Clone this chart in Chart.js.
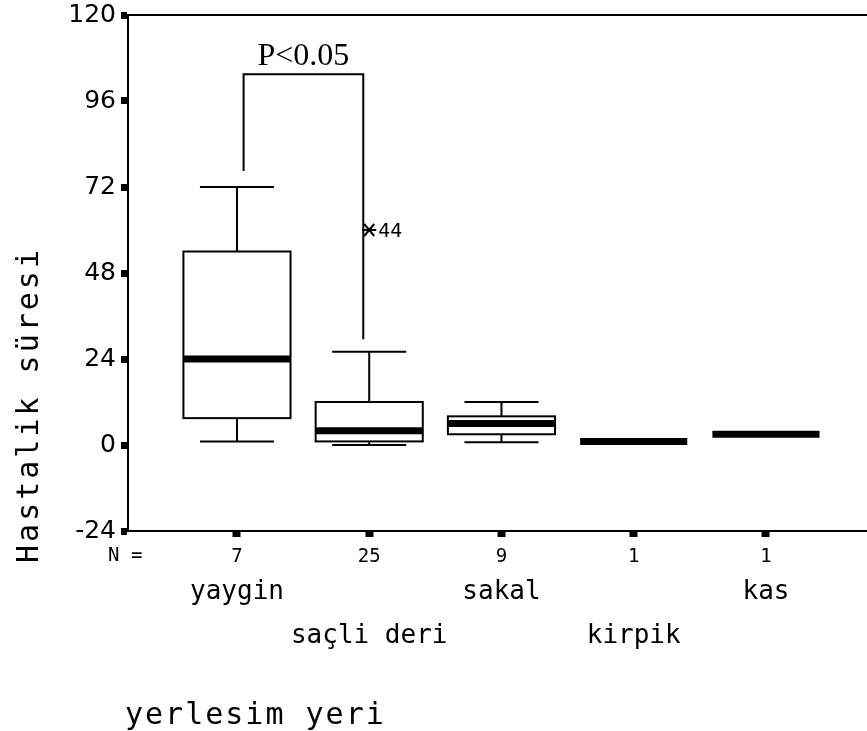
<!DOCTYPE html>
<html>
<head>
<meta charset="utf-8">
<script src="https://cdn.jsdelivr.net/npm/chart.js@4/dist/chart.umd.min.js"></script>
<style>
  html, body { margin: 0; padding: 0; background: #fff; }
  canvas { display: block; }
</style>
</head>
<body>
<canvas id="boxChart" width="867" height="731"></canvas>
<script>
// kategoriler i vrijednosti box plota (procijenjeno sa slike)
const categories = ["yaygin", "saçli deri", "sakal", "kirpik", "kas"];
const nValues = [7, 25, 9, 1, 1];
const whiskerLow = [1, 0, 0.8, 1, 3];
const q1Values = [7.5, 1, 3, 1, 3];
const medianValues = [24, 4, 6, 1, 3];
const q3Values = [54, 12, 8, 1, 3];
const whiskerHigh = [72, 26, 12, 1, 3];

// ekstremne vrijednosti (*)
const outlierCategory = [2];
const outlierValues = [60];
const outlierLabels = ["44"];

const yTicks = [-24, 0, 24, 48, 72, 96, 120];

// zagrada P<0.05 izmedju prve dvije grupe
const bracketX = [1.05, 1.955];
const bracketBottom = [76.5, 29.5];
const bracketTop = 103.5;
const bracketText = "P<0.05";

const monoFont = "'DejaVu Sans Mono', 'Liberation Mono', monospace";

// Plugin koji crta kutije, brkove, zagradu i tekstove ispod osi
const boxPlotPlugin = {
  id: "boxPlot",
  afterDatasetsDraw(chart) {
    const ctx = chart.ctx;
    const xs = chart.scales.x;
    const ys = chart.scales.y;
    const area = chart.chartArea;
    const unit = xs.getPixelForValue(2) - xs.getPixelForValue(1);
    const boxHalf = unit * 0.405;
    const capHalf = unit * 0.28;

    ctx.save();
    ctx.strokeStyle = "#000";
    ctx.fillStyle = "#000";

    // gornja linija okvira
    ctx.lineWidth = 2;
    ctx.beginPath();
    ctx.moveTo(area.left, area.top);
    ctx.lineTo(area.right, area.top);
    ctx.stroke();

    categories.forEach((cat, i) => {
      const cx = xs.getPixelForValue(i + 1);
      const yLo = ys.getPixelForValue(whiskerLow[i]);
      const yQ1 = ys.getPixelForValue(q1Values[i]);
      const yMed = ys.getPixelForValue(medianValues[i]);
      const yQ3 = ys.getPixelForValue(q3Values[i]);
      const yHi = ys.getPixelForValue(whiskerHigh[i]);

      ctx.lineWidth = 2;
      if (whiskerHigh[i] > q3Values[i]) {
        ctx.beginPath();
        ctx.moveTo(cx, yQ3);
        ctx.lineTo(cx, yHi);
        ctx.moveTo(cx - capHalf, yHi);
        ctx.lineTo(cx + capHalf, yHi);
        ctx.stroke();
      }
      if (whiskerLow[i] < q1Values[i]) {
        ctx.beginPath();
        ctx.moveTo(cx, yQ1);
        ctx.lineTo(cx, yLo);
        ctx.moveTo(cx - capHalf, yLo);
        ctx.lineTo(cx + capHalf, yLo);
        ctx.stroke();
      }
      if (q3Values[i] > q1Values[i]) {
        ctx.fillStyle = "#fff";
        ctx.fillRect(cx - boxHalf, yQ3, boxHalf * 2, yQ1 - yQ3);
        ctx.strokeRect(cx - boxHalf, yQ3, boxHalf * 2, yQ1 - yQ3);
        ctx.fillStyle = "#000";
      }
      // medijana
      ctx.lineWidth = 7;
      ctx.beginPath();
      ctx.moveTo(cx - boxHalf, yMed);
      ctx.lineTo(cx + boxHalf, yMed);
      ctx.stroke();
    });

    // ekstremne tacke
    outlierValues.forEach((v, k) => {
      const px = xs.getPixelForValue(outlierCategory[k]);
      const py = ys.getPixelForValue(v);
      ctx.lineWidth = 2;
      ctx.beginPath();
      ctx.moveTo(px - 7, py);
      ctx.lineTo(px + 7, py);
      ctx.moveTo(px - 5, py - 6);
      ctx.lineTo(px + 5, py + 6);
      ctx.moveTo(px - 5, py + 6);
      ctx.lineTo(px + 5, py - 6);
      ctx.stroke();
      ctx.font = "19px 'DejaVu Sans', sans-serif";
      ctx.textAlign = "left";
      ctx.textBaseline = "middle";
      ctx.fillText(outlierLabels[k], px + 9, py + 2);
    });

    // zagrada
    const bx0 = xs.getPixelForValue(bracketX[0]);
    const bx1 = xs.getPixelForValue(bracketX[1]);
    const bTop = ys.getPixelForValue(bracketTop);
    ctx.lineWidth = 2;
    ctx.beginPath();
    ctx.moveTo(bx0, ys.getPixelForValue(bracketBottom[0]));
    ctx.lineTo(bx0, bTop);
    ctx.lineTo(bx1, bTop);
    ctx.lineTo(bx1, ys.getPixelForValue(bracketBottom[1]));
    ctx.stroke();
    ctx.font = "32px 'Liberation Serif', 'Times New Roman', serif";
    ctx.textAlign = "center";
    ctx.textBaseline = "alphabetic";
    ctx.fillText(bracketText, (bx0 + bx1) / 2, bTop - 9);

    // N = i nazivi kategorija
    ctx.font = "19px " + monoFont;
    ctx.textAlign = "left";
    ctx.textBaseline = "middle";
    ctx.fillText("N =", 108, area.bottom + 25);

    ctx.font = "26px " + monoFont;
    ctx.textAlign = "center";
    categories.forEach((cat, i) => {
      const cx = xs.getPixelForValue(i + 1);
      const rowY = i % 2 === 0 ? area.bottom + 61 : area.bottom + 105;
      ctx.fillText(cat, cx, rowY);
    });

    // naslov x ose
    ctx.font = "30px " + monoFont;
    ctx.letterSpacing = "2px";
    ctx.textAlign = "left";
    ctx.fillText("yerlesim yeri", 125, area.bottom + 185);

    // naslov y ose
    ctx.translate(30, 405);
    ctx.rotate(-Math.PI / 2);
    ctx.letterSpacing = "3px";
    ctx.textAlign = "center";
    ctx.fillText("Hastalik süresi", 0, 0);
    ctx.restore();
  }
};

new Chart(document.getElementById("boxChart"), {
  type: "scatter",
  data: { datasets: [{ data: [] }] },
  options: {
    responsive: false,
    animation: false,
    layout: { padding: { left: 0, right: 0, top: 15, bottom: 0 } },
    plugins: {
      legend: { display: false },
      tooltip: { enabled: false }
    },
    scales: {
      x: {
        type: "linear",
        min: 0.176,
        max: 5.764,
        afterBuildTicks: (scale) => {
          scale.ticks = nValues.map((n, i) => ({ value: i + 1 }));
        },
        afterFit: (scale) => {
          scale.height = 200;
          scale.paddingLeft = 0;
          scale.paddingRight = 0;
        },
        ticks: {
          callback: (value) => String(nValues[value - 1]),
          font: { family: monoFont, size: 19 },
          color: "#000",
          padding: 9,
          maxRotation: 0,
          autoSkip: false
        },
        grid: {
          display: true,
          drawOnChartArea: false,
          drawTicks: true,
          tickLength: 6,
          tickWidth: 8,
          tickColor: "#000"
        },
        border: { display: true, color: "#000", width: 2 }
      },
      y: {
        type: "linear",
        min: -24,
        max: 120,
        afterBuildTicks: (scale) => {
          scale.ticks = yTicks.map((v) => ({ value: v }));
        },
        afterFit: (scale) => {
          scale.width = 128;
          scale.paddingTop = 0;
          scale.paddingBottom = 0;
        },
        ticks: {
          font: { family: "'DejaVu Sans', sans-serif", size: 25 },
          color: "#000",
          padding: 5
        },
        grid: {
          display: true,
          drawOnChartArea: false,
          drawTicks: true,
          tickLength: 7,
          tickWidth: 7,
          tickColor: "#000"
        },
        border: { display: true, color: "#000", width: 2 }
      }
    }
  },
  plugins: [boxPlotPlugin]
});
</script>
</body>
</html>
